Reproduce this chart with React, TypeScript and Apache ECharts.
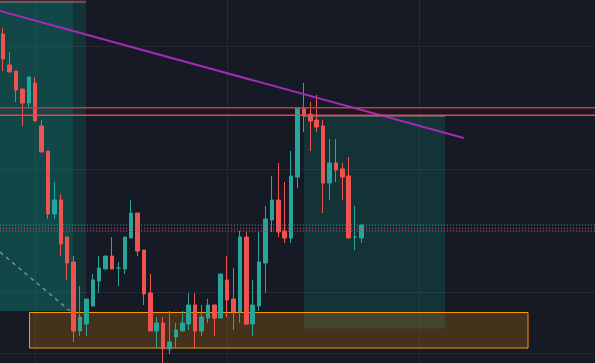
import React, { useEffect, useRef } from "react";
import * as echarts from "echarts";

// ---- data ----
const barCount = 93;
const categories: string[] = Array.from({ length: barCount }, (_, i) => `Bar ${i + 1}`);

// [open, close, low, high]
const candles: number[][] = [
  [136.6, 134.1, 132.9, 137.2],
  [133.5, 132.8, 132.8, 134.8],
  [132.9, 131.0, 129.8, 132.9],
  [131.1, 129.7, 127.4, 131.1],
  [129.7, 132.3, 129.2, 132.3],
  [131.7, 127.9, 127.9, 132.3],
  [127.4, 124.8, 124.8, 128.0],
  [124.9, 118.6, 118.1, 124.9],
  [118.6, 120.0, 118.1, 121.8],
  [120.0, 115.6, 114.4, 120.6],
  [116.3, 113.7, 112.0, 116.3],
  [113.8, 106.9, 105.8, 114.4],
  [106.9, 108.3, 106.4, 111.4],
  [107.6, 110.1, 106.4, 110.1],
  [109.4, 112.0, 109.4, 112.6],
  [111.9, 113.2, 110.7, 114.4],
  [113.1, 114.4, 113.1, 114.4],
  [114.4, 113.1, 113.1, 116.3],
  [113.2, 113.2, 111.4, 113.8],
  [113.1, 116.3, 112.6, 116.3],
  [116.2, 118.7, 116.2, 120.0],
  [118.7, 114.9, 114.4, 118.7],
  [115.0, 110.6, 109.5, 115.0],
  [110.7, 106.9, 106.9, 112.6],
  [106.9, 107.7, 105.2, 108.3],
  [107.7, 105.1, 103.5, 108.3],
  [105.1, 105.8, 104.6, 108.9],
  [106.3, 107.0, 105.2, 107.7],
  [106.9, 107.7, 106.9, 108.9],
  [107.6, 109.5, 107.0, 110.7],
  [109.5, 106.9, 105.2, 110.7],
  [106.9, 108.3, 106.4, 109.5],
  [108.2, 109.5, 107.7, 110.1],
  [109.5, 108.2, 106.4, 109.5],
  [108.2, 112.6, 108.2, 112.6],
  [112.0, 110.0, 108.3, 114.4],
  [110.1, 108.8, 107.0, 113.2],
  [108.8, 116.3, 107.7, 116.9],
  [116.3, 107.6, 107.5, 116.9],
  [107.6, 109.5, 106.4, 112.0],
  [109.4, 113.8, 108.9, 116.9],
  [113.7, 118.1, 110.7, 119.4],
  [118.0, 120.0, 116.8, 122.4],
  [120.0, 116.8, 116.3, 123.7],
  [116.9, 116.2, 115.7, 121.8],
  [116.2, 122.4, 115.7, 124.9],
  [122.3, 129.2, 121.2, 129.2],
  [129.2, 128.4, 126.8, 131.7],
  [128.6, 127.9, 124.9, 129.8],
  [128.0, 127.3, 126.8, 130.5],
  [127.4, 121.7, 118.7, 128.0],
  [121.7, 123.7, 120.0, 126.1],
  [123.7, 123.0, 121.8, 126.1],
  [123.1, 122.3, 120.0, 123.7],
  [122.4, 116.2, 116.2, 124.3],
  [116.3, 116.3, 115.0, 119.4],
  [116.2, 117.5, 115.7, 117.5],
];

// price range & grid
const priceMin = 103.7;
const priceMax = 140;
const gridPrices = [135.4, 129.25, 123.1, 116.95, 110.8, 104.65];
const gridBars = [5, 35, 65];

// drawings (x in bar-index units, y in price)
const trendLine = [[-0.5, 138.9], [71.98, 126.2]];
const dashedLine = [[-0.5, 114.8], [10.44, 108.9]];
const resistanceLevels = [129.22, 128.47];
const dottedLevels = [117.5, 117.17, 116.87];

// zones: [x1, y1, x2, y2]
const leftStopZone = [-0.5, 140, 12.94, 139.8];
const leftProfitZone = [-0.5, 139.8, 12.94, 108.9];
const leftProfitZone2 = [-0.5, 139.8, 10.91, 108.9];
const leftEntry = [[-0.5, 139.8], [12.94, 139.8]];
const rightProfitZone = [47.01, 128.4, 69.05, 107.15];
const rightEntry = [[47.01, 128.4], [69.05, 128.4]];
const demandBox = [4.11, 108.75, 82.03, 105.2];

const UP = "#26a69a";
const DOWN = "#ef5350";

function area(z: number[], itemStyle: any) {
  return [
    { coord: [z[0], z[1]], itemStyle },
    { coord: [z[2], z[3]] },
  ];
}

export default function App() {
  const ref = useRef<HTMLDivElement>(null);
  useEffect(() => {
    if (!ref.current) return;
    const chart = echarts.init(ref.current, undefined, { renderer: "svg" });
    const seg = (data: number[][], color: string, width: number, type: any = "solid", z = 5) => ({
      type: "line",
      xAxisIndex: 1,
      yAxisIndex: 0,
      data,
      symbol: "none",
      silent: true,
      z,
      color,
      lineStyle: { color, width, type, opacity: 1 },
    });
    const level = (p: number, color: string, width: number, type: any = "solid") =>
      seg([[-0.5, p], [barCount - 0.5, p]], color, width, type, 6);
    chart.setOption({
      animation: false,
      backgroundColor: "#161a25",
      grid: { left: 0, right: 0, top: 0, bottom: 0 },
      xAxis: [
        { type: "category", data: categories, boundaryGap: true, show: false },
        { type: "value", min: -0.5, max: barCount - 0.5, show: false },
      ],
      yAxis: { type: "value", min: priceMin, max: priceMax, show: false },
      series: [
        {
          type: "line",
          xAxisIndex: 1,
          data: [],
          z: 0,
          silent: true,
          markLine: {
            silent: true,
            z: 0,
            symbol: ["none", "none"],
            label: { show: false },
            lineStyle: { color: "#252833", width: 1, type: "solid" },
            data: [
              ...gridPrices.map((p) => ({ yAxis: p })),
              ...gridBars.map((b) => ({ xAxis: b })),
            ],
          },
        },
        {
          type: "line",
          xAxisIndex: 1,
          data: [],
          z: 1,
          silent: true,
          markArea: {
            silent: true,
            z: 1,
            label: { show: false },
            data: [
              area(leftStopZone, { color: "rgba(242,54,69,0.25)" }),
              area(leftProfitZone, { color: "rgba(8,153,129,0.2)" }),
              area(leftProfitZone2, { color: "rgba(8,153,129,0.2)" }),
              area(rightProfitZone, { color: "rgba(8,153,129,0.2)" }),
              area(demandBox, { color: "rgba(255,152,0,0.2)", borderColor: "#ff9800", borderWidth: 1 }),
            ],
          },
        },
        {
          type: "candlestick",
          xAxisIndex: 0,
          yAxisIndex: 0,
          data: candles,
          barWidth: 4,
          z: 2,
          itemStyle: {
            color: UP,
            color0: DOWN,
            borderColor: UP,
            borderColor0: DOWN,
            borderWidth: 1,
          },
        },
        seg(leftEntry, "#8a8790", 1),
        seg(rightEntry, "#9a8a92", 1),
        level(resistanceLevels[0], "#c23a4a", 1.5),
        level(resistanceLevels[1], "#e8434f", 1.5),
        level(dottedLevels[0], UP, 1, [1, 2]),
        level(dottedLevels[1], "#f23645", 1, [1, 2]),
        level(dottedLevels[2], "#2962ff", 1, [1, 2]),
        seg(trendLine, "#a42ab8", 2),
        seg(dashedLine, "#7d8893", 1.5, [4, 4]),
      ],
    });
    return () => chart.dispose();
  }, []);
  return (
    <div
      ref={ref}
      style={{ position: "fixed", left: 0, top: 0, width: 595, height: 363 }}
    />
  );
}
